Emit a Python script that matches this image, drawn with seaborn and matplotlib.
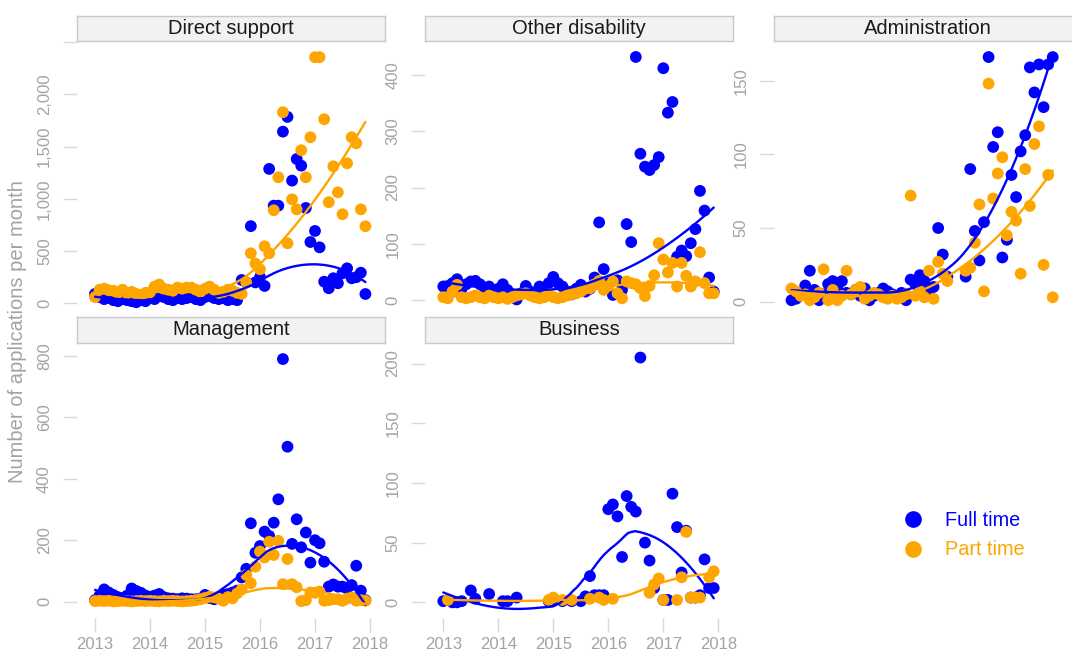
import numpy as np
import pandas as pd
import matplotlib
matplotlib.use("Agg")
import matplotlib.pyplot as plt
from matplotlib.lines import Line2D
import seaborn as sns

# ---------------- data (monthly, month index 0 = Jan 2013) ----------------
panels = ["Direct support", "Other disability", "Administration", "Management", "Business"]
series = ["Full time", "Part time"]

ds_full_m = list(range(60))
ds_full_v = [90, 60, 40, 50, 30, 20, 40, 30, 20, 10, 30, 20, 50, 40, 70, 60, 40, 30, 50, 40,
             50, 60, 40, 30, 60, 70, 50, 40, 50, 30, 40, 30, 223, 200, 739, 200, 250, 166, 1287, 935,
             935, 1644, 1785, 1175, 1382, 1318, 913, 587, 693, 536, 207, 144, 240, 192, 287, 335, 240, 250, 293, 89]
ds_part_m = list(range(60))
ds_part_v = [60, 130, 140, 125, 120, 100, 130, 95, 110, 90, 80, 100, 105, 160, 180, 140, 130, 120, 150, 140,
             150, 150, 130, 110, 140, 160, 130, 100, 110, 130, 120, 100, 90, 200, 479, 380, 326, 546, 479, 891,
             1207, 1830, 575, 996, 900, 1466, 1207, 1590, 2357, 2357, 1763, 968, 1312, 1063, 853, 1341, 1590, 1533, 900, 738]

od_full_m = list(range(60))
od_full_v = [24, 25, 30, 37, 20, 28, 33, 34, 28, 22, 24, 15, 20, 28, 18, 10, 1, 12, 25, 15,
             10, 24, 20, 30, 41, 30, 24, 15, 10, 20, 27, 15, 20, 40, 138, 55, 30, 9, 35, 18,
             135, 103, 432, 260, 237, 231, 240, 254, 412, 333, 352, 77, 88, 78, 101, 126, 194, 159, 40, 15]
od_part_m = list(range(60))
od_part_v = [5, 3, 15, 27, 5, 3, 5, 8, 5, 3, 8, 5, 3, 5, 2, 5, 8, 10, 12, 8,
             5, 3, 5, 10, 5, 3, 5, 8, 10, 12, 15, 20, 21, 28, 34, 18, 25, 33, 12, 3,
             33, 30, 28, 21, 7, 25, 44, 101, 72, 49, 66, 24, 66, 43, 24, 33, 85, 30, 12, 12]

ad_full_m = list(range(35)) + list(range(38, 58))
ad_full_v = [1, 2, 5, 11, 21, 8, 1, 5, 12, 14, 10, 14, 6, 5, 8, 4, 9, 1, 4, 6,
             9, 7, 5, 3, 6, 1, 15, 12, 18, 14, 8, 10, 50, 32, 17,
             17, 90, 48, 28, 54, 166, 105, 115, 30, 42, 86, 71, 102, 113, 159, 142, 161, 132, 161, 166]
ad_part_m = list(range(35)) + list(range(38, 58))
ad_part_v = [9, 7, 4, 5, 1, 3, 6, 22, 1, 8, 1, 4, 21, 5, 8, 10, 2, 4, 6, 5,
             3, 2, 4, 2, 3, 5, 72, 4, 7, 3, 21, 2, 27, 19, 14,
             21, 23, 40, 66, 7, 148, 70, 87, 98, 45, 61, 55, 19, 90, 65, 107, 119, 25, 86, 3]

mg_full_m = list(range(60))
mg_full_v = [5, 20, 40, 30, 22, 15, 11, 20, 43, 35, 29, 20, 16, 20, 25, 15, 11, 10, 8, 11,
             10, 8, 8, 10, 22, 12, 8, 15, 22, 25, 30, 36, 79, 107, 255, 159, 181, 228, 214, 257,
             333, 789, 504, 188, 268, 177, 225, 127, 200, 190, 130, 49, 56, 49, 49, 43, 54, 117, 36, 5]
mg_part_m = list(range(60))
mg_part_v = [2, 3, 2, 3, 1, 2, 3, 2, 1, 2, 3, 2, 3, 2, 1, 3, 2, 3, 2, 1,
             2, 3, 5, 8, 12, 16, 14, 10, 3, 15, 11, 27, 40, 87, 60, 114, 163, 144, 195, 152,
             198, 57, 139, 57, 47, 2, 5, 30, 29, 33, 3, 5, 8, 8, 3, 10, 14, 3, 5, 3]

bu_full_m = [0, 2, 3, 4, 6, 7, 10, 13, 14, 16, 23, 24, 26, 28, 30, 31, 32, 33, 34, 35, 36, 37,
             38, 39, 40, 41, 42, 43, 44, 45, 46, 48, 49, 50, 51, 52, 53, 54, 55, 56, 57, 58, 59]
bu_full_v = [1, 0, 0, 1, 10, 3, 7, 1, 1, 4, 1, 1, 1, 1, 1, 5, 22, 6, 6, 6, 78, 82,
             72, 38, 89, 80, 76, 205, 50, 35, 12, 2, 2, 91, 63, 25, 60, 4, 4, 6, 36, 12, 12]
bu_part_m = [1, 23, 24, 26, 28, 32, 34, 35, 37, 45, 46, 47, 48, 51, 52, 53, 54, 55, 56, 58, 59]
bu_part_v = [2, 2, 4, 2, 2, 3, 4, 2, 3, 8, 15, 20, 2, 2, 21, 59, 4, 4, 4, 21, 26]

raw = {
    "Direct support": [(ds_full_m, ds_full_v), (ds_part_m, ds_part_v)],
    "Other disability": [(od_full_m, od_full_v), (od_part_m, od_part_v)],
    "Administration": [(ad_full_m, ad_full_v), (ad_part_m, ad_part_v)],
    "Management": [(mg_full_m, mg_full_v), (mg_part_m, mg_part_v)],
    "Business": [(bu_full_m, bu_full_v), (bu_part_m, bu_part_v)],
}

y_ticks = {
    "Direct support": ([0, 500, 1000, 1500, 2000, 2500], ["0", "500", "1,000", "1,500", "2,000", ""]),
    "Other disability": ([0, 100, 200, 300, 400], ["0", "100", "200", "300", "400"]),
    "Administration": ([0, 50, 100, 150], ["0", "50", "100", "150"]),
    "Management": ([0, 200, 400, 600, 800], ["0", "200", "400", "600", "800"]),
    "Business": ([0, 50, 100, 150, 200], ["0", "50", "100", "150", "200"]),
}
x_ticks = [2013, 2014, 2015, 2016, 2017, 2018]

# ---------------- style / layout ----------------
BLUE, ORANGE = "#0000FF", "#FFA500"
palette = {"Full time": BLUE, "Part time": ORANGE}
GREY_TXT = "#a3a3a3"
GREY_TICK = "#d9d9d9"

sns.set_theme(style="white")
plt.rcParams["font.family"] = ["Liberation Sans", "DejaVu Sans"]

W, H = 1072, 653
fig = plt.figure(figsize=(W / 100, H / 100), dpi=100)


def rect(l, t, r, b):
    return [l / W, 1 - b / H, (r - l) / W, (b - t) / H]


cols = [(77.0, 385.0), (425.3, 733.3), (773.5, 1081.5)]
rows = [(15.7, 41.0, 316.0), (316.7, 342.5, 618.0)]  # strip top, panel top, panel bottom
pos = {
    "Direct support": (0, 0), "Other disability": (0, 1), "Administration": (0, 2),
    "Management": (1, 0), "Business": (1, 1),
}
ylims = {
    "Direct support": (-121.6, 2512),
    "Other disability": (-28.4, 460.4),
    "Administration": (-9.7, 176.9),
    "Management": (-53, 842.9),
    "Business": (-13.1, 217.6),
}
xlim = (2013 - 18 / 55, 2013 + 290 / 55)


def _local_fit(x, y, pts, span, rw):
    q = int(np.floor(len(x) * span))
    out = []
    for g in pts:
        d = np.abs(x - g)
        h = np.sort(d)[q - 1]
        u = np.clip(d / h, 0, 1)
        w = (1 - u ** 3) ** 3 * rw
        c = np.polyfit(x - g, y, 2, w=np.sqrt(w))
        out.append(c[-1])
    return np.array(out)


def robust_loess(x, y, span=0.75, iterations=4, n=80):
    """loess, degree 2, family = 'symmetric' (bisquare robustness iterations)."""
    x = np.asarray(x, float)
    y = np.asarray(y, float)
    rw = np.ones_like(x)
    for _ in range(iterations - 1):
        res = y - _local_fit(x, y, x, span, rw)
        s = np.median(np.abs(res))
        u = np.clip(res / (6 * s), -1, 1)
        rw = (1 - u ** 2) ** 2
    grid = np.linspace(x.min(), x.max(), n)
    return grid, _local_fit(x, y, grid, span, rw)


for name in panels:
    r, c = pos[name]
    l, rr = cols[c]
    st, pt, pb = rows[r]
    ax = fig.add_axes(rect(l, pt, rr, pb))
    sax = fig.add_axes(rect(l, st, rr, pt))

    frames = []
    for sname, (m, v) in zip(series, raw[name]):
        frames.append(pd.DataFrame({"year": 2013 + np.asarray(m) / 12.0, "value": v, "type": sname}))
    df = pd.concat(frames, ignore_index=True)

    sns.scatterplot(data=df, x="year", y="value", hue="type", palette=palette,
                    hue_order=series, s=72, linewidth=0, alpha=1, legend=False, ax=ax, zorder=2)
    for sname in series:
        sub = df[df["type"] == sname]
        gx, gy = robust_loess(sub["year"], sub["value"])
        sns.lineplot(x=gx, y=gy, color=palette[sname], linewidth=1.7, ax=ax, zorder=3)

    ax.set_xlim(*xlim)
    ax.set_ylim(*ylims[name])
    ax.set_facecolor("white")
    for sp in ax.spines.values():
        sp.set_visible(False)
    ax.grid(False)
    ax.set_xlabel("")
    ax.set_ylabel("")
    yt, yl = y_ticks[name]
    ax.set_yticks(yt)
    ax.set_yticklabels(yl)
    ax.tick_params(axis="y", which="both", left=True, length=10, width=1, color=GREY_TICK,
                   labelcolor=GREY_TXT, labelsize=12, pad=8, labelrotation=90)
    for lab in ax.get_yticklabels():
        lab.set_va("center")
    if r == 1:
        ax.set_xticks(x_ticks)
        ax.set_xticklabels([str(t) for t in x_ticks])
        ax.tick_params(axis="x", which="both", bottom=True, length=10, width=1, color=GREY_TICK,
                       labelcolor=GREY_TXT, labelsize=12, pad=3.5)
    else:
        ax.set_xticks([])

    sax.set_facecolor("#f2f2f2")
    sax.set_xticks([])
    sax.set_yticks([])
    for sp in sax.spines.values():
        sp.set_color("#c9c9c9")
        sp.set_linewidth(1)
    sax.text(0.5, 0.5, name, ha="center", va="center", fontsize=14.5, color="#1a1a1a",
             transform=sax.transAxes)

fig.text(18 / W, 1 - 332 / H, "Number of applications per month", rotation=90,
         ha="center", va="center", fontsize=14.5, color=GREY_TXT)

handles = [Line2D([], [], linestyle="none", marker="o", markersize=12,
                  markerfacecolor=palette[s], markeredgewidth=0) for s in series]
fig.legend(handles, series, loc="center left", bbox_to_anchor=(903 / W, 1 - 535 / H),
           frameon=False, fontsize=14.3, handlelength=1.0, handletextpad=1.1,
           labelspacing=0.55, borderpad=0, borderaxespad=0, labelcolor=[BLUE, ORANGE])

fig.savefig("out.png", dpi=100)
